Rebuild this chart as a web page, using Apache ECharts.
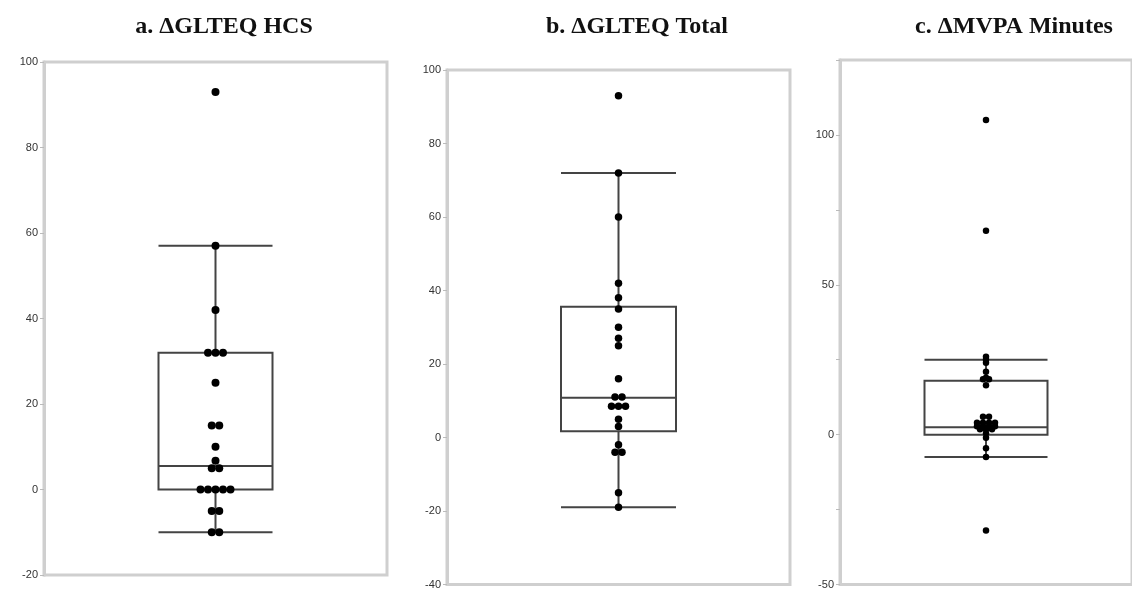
<!DOCTYPE html>
<html>
<head>
<meta charset="utf-8">
<script src="https://cdn.jsdelivr.net/npm/echarts@6/dist/echarts.min.js"></script>
<style>html,body{margin:0;padding:0;background:#fff}#c{width:1132px;height:590px}</style>
</head>
<body>
<div id="c"></div>
<script>
// ---- data ----
const titles = ['a. \u0394GLTEQ HCS', 'b. \u0394GLTEQ Total', 'c. \u0394MVPA Minutes'];
const category = ['x'];
// box: [lower whisker, Q1, median, Q3, upper whisker]
const boxA = [-10, 0, 5.5, 32, 57];
const boxB = [-19, 1.7, 10.8, 35.6, 72];
const boxC = [-7.5, 0, 2.5, 18, 25];
const pointsA = [93, 57, 42, 32, 32, 32, 25, 15, 15, 10, 6.7, 5, 5, 0, 0, 0, 0, 0, -5, -5, -10, -10];
const pointsB = [93, 72, 60, 42, 38, 35, 30, 27, 25, 16, 11, 11, 8.5, 8.5, 8.5, 5, 3, -2, -4, -4, -15, -19];
const pointsC = [105, 68, 26, 25, 24, 21, 19, 18.5, 18.5, 16.5, 6, 6, 4, 4, 4, 4, 2.8, 2.8, 2.8, 2.8, 1.8, 1.8, 1.8, 0.5, -1, -4.5, -7.5, -32];
const yMin = [-20, -40, -50];
const yMax = [100, 100, 125];
const yInterval = [20, 20, 25];

// ---- layout ----
const grids = [
  {left: 44, top: 62, width: 343, height: 513},
  {left: 447, top: 70, width: 343, height: 517},
  {left: 840, top: 60, width: 305, height: 525}
];
const boxWidths = [114, 115, 123];
const dotSizes = [8, 7.5, 6.5];
const titleX = [219, 632, 1009];

function swarm(vals, spacing) {
  const counts = {};
  vals.forEach(v => counts[v] = (counts[v] || 0) + 1);
  const seen = {};
  return vals.map(v => {
    const k = counts[v];
    const i = seen[v] = (seen[v] === undefined ? 0 : seen[v] + 1);
    const dx = (i - (k - 1) / 2) * spacing;
    return {value: [0, v], symbolOffset: [dx, 0]};
  });
}

const boxes = [boxA, boxB, boxC];
const points = [pointsA, pointsB, pointsC];

const option = {
  animation: false,
  title: titles.map((t, i) => ({
    text: t, left: titleX[i], top: 10, textAlign: 'center',
    textStyle: {fontFamily: 'Liberation Serif', fontWeight: 'bold', fontSize: 24, color: '#111'}
  })),
  grid: grids.map(g => Object.assign({show: true, borderColor: '#cfcfcf', borderWidth: 3, backgroundColor: '#fff'}, g)),
  xAxis: grids.map((g, i) => ({
    type: 'category', gridIndex: i, data: category,
    axisLine: {show: false}, axisTick: {show: false}, axisLabel: {show: false}, splitLine: {show: false}
  })),
  yAxis: grids.map((g, i) => ({
    type: 'value', gridIndex: i, min: yMin[i], max: yMax[i], interval: yInterval[i],
    axisLine: {show: true, lineStyle: {color: '#cfcfcf', width: 3}},
    axisTick: {show: true, length: 4, lineStyle: {color: '#bbb', width: 1}},
    axisLabel: {
      margin: 6, fontFamily: 'Liberation Sans', fontSize: 11, color: '#333',
      formatter: v => (i === 2 ? (v % 50 === 0 ? String(v) : '') : String(v))
    },
    splitLine: {show: false}
  })),
  series: []
};

boxes.forEach((b, i) => {
  option.series.push({
    type: 'boxplot', xAxisIndex: i, yAxisIndex: i,
    boxWidth: [boxWidths[i], boxWidths[i]],
    itemStyle: {color: '#fff', borderColor: '#444', borderWidth: 2},
    data: [b]
  });
  option.series.push({
    type: 'scatter', xAxisIndex: i, yAxisIndex: i,
    symbolSize: dotSizes[i],
    itemStyle: {color: '#000', opacity: 1},
    data: swarm(points[i], dotSizes[i] - 0.5),
    z: 5
  });
});

const chart = echarts.init(document.getElementById('c'), null, {renderer: 'canvas'});
chart.setOption(option);
</script>
</body>
</html>
